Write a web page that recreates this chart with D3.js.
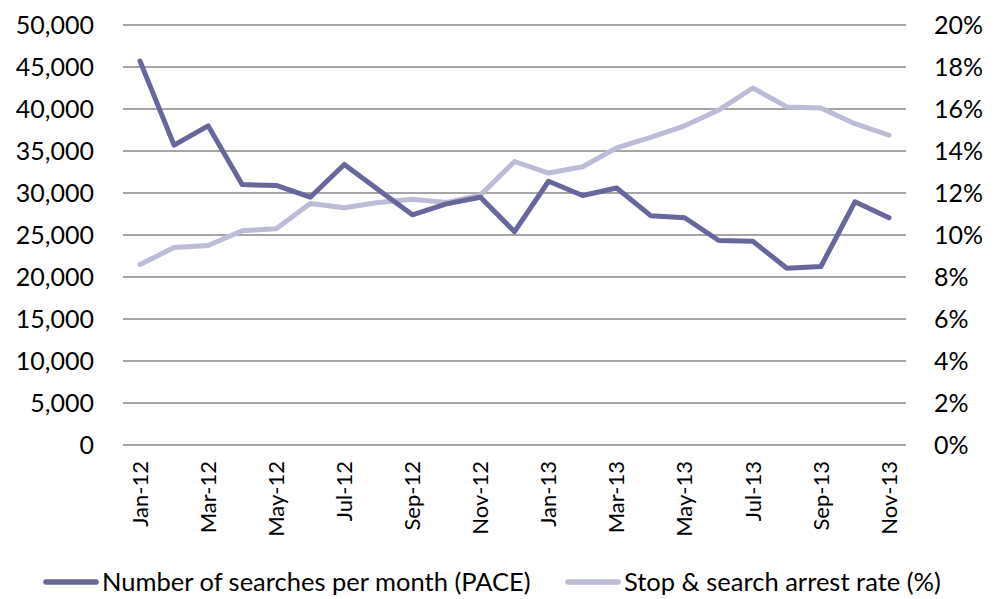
<!DOCTYPE html>
<html>
<head>
  <meta charset="utf-8">
  <script src="https://d3js.org/d3.v7.min.js"></script>
  <style>
    body { margin: 0; background: #fff; }
    text { font-family: Lato, "Open Sans", sans-serif; fill: #000; }
    .grid line { stroke: #a6a6a6; stroke-width: 1.4px; shape-rendering: crispEdges; }
  </style>
</head>
<body>
  <div id="chart"></div>
  <script>
    // Data
    const months = ["Jan-12", "Feb-12", "Mar-12", "Apr-12", "May-12", "Jun-12", "Jul-12", "Aug-12",
      "Sep-12", "Oct-12", "Nov-12", "Dec-12", "Jan-13", "Feb-13", "Mar-13", "Apr-13", "May-13",
      "Jun-13", "Jul-13", "Aug-13", "Sep-13", "Oct-13", "Nov-13"];
    const searches = [45700, 35700, 38000, 31000, 30900, 29500, 33400, 30400, 27400, 28700, 29500,
      25400, 31400, 29700, 30600, 27300, 27050, 24350, 24250, 21050, 21250, 28950, 27050];
    const arrestRate = [8.6, 9.4, 9.5, 10.2, 10.3, 11.5, 11.3, 11.55, 11.7, 11.55, 11.9,
      13.5, 12.95, 13.25, 14.15, 14.65, 15.2, 15.95, 17.0, 16.1, 16.05, 15.3, 14.75];
    const leftTicks = [0, 5000, 10000, 15000, 20000, 25000, 30000, 35000, 40000, 45000, 50000];
    const rightTicks = [0, 2, 4, 6, 8, 10, 12, 14, 16, 18, 20];
    const seriesNames = ["Number of searches per month (PACE)", "Stop & search arrest rate (%)"];

    const colors = ["#67679b", "#bcbcd6"];

    const width = 997, height = 599;
    const plot = { left: 123, right: 906, top: 25, bottom: 445 };

    const svg = d3.select("#chart").append("svg")
      .attr("width", width)
      .attr("height", height);

    // Scales
    const x = d3.scaleBand().domain(months).range([plot.left, plot.right]);
    const yLeft = d3.scaleLinear().domain([0, 50000]).range([plot.bottom, plot.top]);
    const yRight = d3.scaleLinear().domain([0, 20]).range([plot.bottom, plot.top]);

    // Gridlines
    svg.append("g").attr("class", "grid")
      .selectAll("line").data(leftTicks).join("line")
        .attr("x1", plot.left).attr("x2", plot.right)
        .attr("y1", d => Math.round(yLeft(d))).attr("y2", d => Math.round(yLeft(d)));

    // Left axis
    svg.append("g")
      .attr("transform", `translate(${plot.left}, 0)`)
      .call(d3.axisLeft(yLeft).tickValues(leftTicks).tickSize(0).tickPadding(29)
        .tickFormat(d3.format(",")))
      .call(g => g.select(".domain").remove())
      .call(g => g.selectAll("text").style("font-size", "25px").attr("dy", "0.35em"));

    // Right axis
    svg.append("g")
      .attr("transform", `translate(${plot.right}, 0)`)
      .call(d3.axisRight(yRight).tickValues(rightTicks).tickSize(0).tickPadding(28)
        .tickFormat(d => d + "%"))
      .call(g => g.select(".domain").remove())
      .call(g => g.selectAll("text").style("font-size", "25px").attr("dy", "0.35em"));

    // Bottom axis, every other month
    svg.append("g")
      .attr("transform", `translate(0, ${plot.bottom})`)
      .call(d3.axisBottom(x).tickValues(months.filter((d, i) => i % 2 === 0)).tickSize(0))
      .call(g => g.select(".domain").remove())
      .call(g => g.selectAll("text")
        .style("font-size", "22px")
        .attr("text-anchor", "end")
        .attr("transform", "rotate(-90)")
        .attr("x", -16)
        .attr("y", 0)
        .attr("dy", "0.35em"));

    const cx = d => x(d) + x.bandwidth() / 2;

    const lineLeft = d3.line().x((d, i) => cx(months[i])).y(d => yLeft(d));
    const lineRight = d3.line().x((d, i) => cx(months[i])).y(d => yRight(d));

    svg.append("path")
      .datum(arrestRate)
      .attr("fill", "none")
      .attr("stroke", colors[1])
      .attr("stroke-width", 5)
      .attr("stroke-linejoin", "round")
      .attr("stroke-linecap", "round")
      .attr("d", lineRight);

    svg.append("path")
      .datum(searches)
      .attr("fill", "none")
      .attr("stroke", colors[0])
      .attr("stroke-width", 5)
      .attr("stroke-linejoin", "round")
      .attr("stroke-linecap", "round")
      .attr("d", lineLeft);

    // Legend
    const legendY = 582;
    const legendX = [43, 565];
    const legend = svg.append("g").selectAll("g").data(seriesNames).join("g")
      .attr("transform", (d, i) => `translate(${legendX[i]}, ${legendY})`);
    legend.append("line")
      .attr("x1", 3).attr("x2", 53)
      .attr("stroke", (d, i) => colors[i])
      .attr("stroke-width", 5.5)
      .attr("stroke-linecap", "round");
    legend.append("text")
      .attr("x", 59)
      .attr("dy", "0.35em")
      .style("font-size", "25.5px")
      .text(d => d);
  </script>
</body>
</html>
